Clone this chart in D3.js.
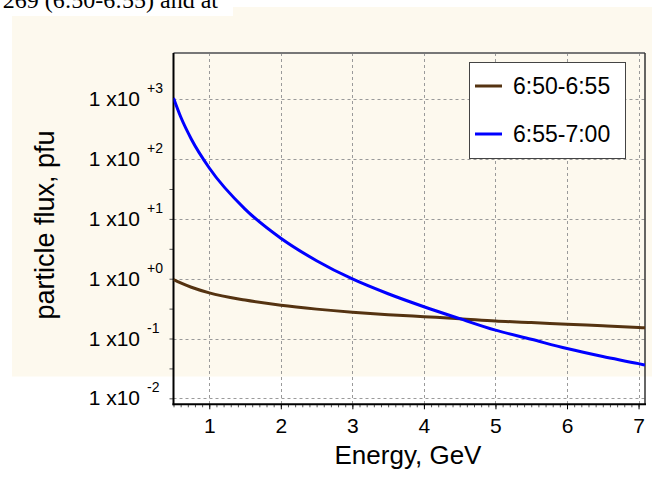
<!DOCTYPE html>
<html>
<head>
<meta charset="utf-8">
<script src="https://cdn.jsdelivr.net/npm/d3@7"></script>
<style>
  body { margin: 0; background: #fff; }
  text { font-family: "Liberation Sans", Arial, sans-serif; fill: #000; }
</style>
</head>
<body>
<div id="chart"></div>
<script>
// values
const energy = [0.5, 0.6, 0.75, 1, 1.5, 2, 2.5, 3, 3.5, 4, 4.5, 5, 5.5, 6, 6.5, 7, 7.09];
const flux1 = [0.97, 0.85, 0.72, 0.58, 0.44, 0.36, 0.31, 0.275, 0.25, 0.232, 0.215, 0.196, 0.185, 0.173, 0.163, 0.153, 0.151];
const flux2 = [1050, 510, 215, 71, 14.6, 4.75, 2.0, 0.99, 0.56, 0.34, 0.215, 0.138, 0.097, 0.068, 0.05, 0.038, 0.036];
const seriesNames = ["6:50-6:55", "6:55-7:00"];
const seriesColors = ["#553311", "#0000ff"];
const xTicks = [1, 2, 3, 4, 5, 6, 7];
const yExps = [3, 2, 1, 0, -1, -2];
const yExpLabels = ["+3", "+2", "+1", "+0", "-1", "-2"];

const w = 652, h = 487;
const pLeft = 173.5, pRight = 645, pTop = 53, pBottom = 404.3;

const svg = d3.select("#chart").append("svg")
  .attr("width", w)
  .attr("height", h);

// cream backdrop of the original screenshot
svg.append("rect").attr("x", 12).attr("y", 7).attr("width", w - 12).attr("height", 369.5)
  .attr("fill", "#fdf9ee");
svg.append("rect").attr("x", 0).attr("y", 0).attr("width", 233).attr("height", 16)
  .attr("fill", "#fff");
// caption fragment, cut off by the top edge as in the source
svg.append("text")
  .attr("x", 218).attr("y", 8)
  .attr("text-anchor", "end")
  .style("font-family", "'Liberation Serif', 'Times New Roman', serif")
  .style("font-size", "24px")
  .text("269 (6:50-6:55) and at");

const x = d3.scaleLinear().domain([0.5, 7.09]).range([pLeft, pRight]);
const y = d3.scaleLog().domain([Math.pow(10, -2.1), Math.pow(10, 3.774)]).range([pBottom, pTop]);

// grid
const grid = svg.append("g")
  .attr("stroke", "#9a9a9a")
  .attr("stroke-width", 1)
  .attr("stroke-dasharray", "3,3");
grid.selectAll(".vg").data(xTicks).join("line")
  .attr("x1", d => Math.round(x(d)) + 0.5).attr("x2", d => Math.round(x(d)) + 0.5)
  .attr("y1", pTop).attr("y2", pBottom);
grid.selectAll(".hg").data(yExps).join("line")
  .attr("x1", pLeft).attr("x2", pRight)
  .attr("y1", d => Math.round(y(Math.pow(10, d))) + 0.5)
  .attr("y2", d => Math.round(y(Math.pow(10, d))) + 0.5);

// frame top/right
svg.append("line").attr("x1", pLeft).attr("x2", pRight).attr("y1", pTop).attr("y2", pTop)
  .attr("stroke", "#777").attr("stroke-width", 2);
svg.append("line").attr("x1", pRight).attr("x2", pRight).attr("y1", pTop).attr("y2", pBottom)
  .attr("stroke", "#333").attr("stroke-width", 1.5);

// x axis: minor ticks then major labels
const minor = d3.range(5, 71).map(i => i / 10);
svg.append("g")
  .attr("transform", "translate(0," + pBottom + ")")
  .call(d3.axisBottom(x).tickValues(minor).tickSize(3).tickFormat(""))
  .call(g => g.select(".domain").remove())
  .selectAll("line").attr("stroke", "#555");

const xAxis = svg.append("g")
  .attr("transform", "translate(0," + pBottom + ")")
  .call(d3.axisBottom(x).tickValues(xTicks).tickSize(5).tickPadding(8).tickFormat(d3.format("d")));
xAxis.select(".domain").remove();
xAxis.selectAll("text").style("font-size", "21px").attr("dy", "0.75em");

svg.append("text")
  .attr("x", 408).attr("y", 464)
  .attr("text-anchor", "middle")
  .style("font-size", "26px")
  .text("Energy, GeV");

// y axis ticks (decades and half decades, outward)
const yTickVals = d3.range(-4, 8).map(i => Math.pow(10, i / 2 - 2));
svg.append("g")
  .attr("transform", "translate(" + pLeft + ",0)")
  .call(d3.axisLeft(y).tickValues(yTickVals.filter(v => v >= y.domain()[0] && v <= y.domain()[1])).tickSize(4).tickFormat(""))
  .call(g => g.select(".domain").remove())
  .selectAll("line").attr("stroke", "#555");

const yLab = svg.append("g");
yLab.selectAll(".base").data(yExps).join("text")
  .attr("x", 140)
  .attr("y", d => y(Math.pow(10, d)) + 7)
  .attr("text-anchor", "end")
  .style("font-size", "21px")
  .text("1 x10");
yLab.selectAll(".sup").data(yExps).join("text")
  .attr("x", 147)
  .attr("y", d => y(Math.pow(10, d)) - 6)
  .style("font-size", "14px")
  .text((d, i) => yExpLabels[i]);

svg.append("text")
  .attr("transform", "translate(54,225) rotate(-90)")
  .attr("text-anchor", "middle")
  .style("font-size", "27px")
  .text("particle flux, pfu");

// axis lines
svg.append("line").attr("x1", pLeft).attr("x2", pLeft).attr("y1", pTop).attr("y2", pBottom + 1)
  .attr("stroke", "#000").attr("stroke-width", 2);
svg.append("line").attr("x1", pLeft - 1).attr("x2", pRight + 1).attr("y1", pBottom).attr("y2", pBottom)
  .attr("stroke", "#000").attr("stroke-width", 2);

// curves
svg.append("clipPath").attr("id", "clip").append("rect")
  .attr("x", pLeft).attr("y", pTop).attr("width", pRight - pLeft).attr("height", pBottom - pTop);

const line = d3.line()
  .x((d, i) => x(energy[i]))
  .y(d => y(d))
  .curve(d3.curveMonotoneX);

[flux1, flux2].forEach((s, k) => {
  svg.append("path")
    .datum(s)
    .attr("clip-path", "url(#clip)")
    .attr("fill", "none")
    .attr("stroke", seriesColors[k])
    .attr("stroke-width", 3)
    .attr("d", line);
});

// legend
const leg = svg.append("g").attr("transform", "translate(469,62)");
leg.append("rect").attr("x", 0.5).attr("y", 0.5).attr("width", 156).attr("height", 96)
  .attr("fill", "#fff").attr("stroke", "#444").attr("stroke-width", 1);
seriesNames.forEach((n, k) => {
  const yy = 24 + k * 48;
  leg.append("line").attr("x1", 6).attr("x2", 33).attr("y1", yy).attr("y2", yy)
    .attr("stroke", seriesColors[k]).attr("stroke-width", 3);
  leg.append("text").attr("x", 44).attr("y", yy + 8)
    .style("font-size", "23px")
    .text(n);
});
</script>
</body>
</html>
